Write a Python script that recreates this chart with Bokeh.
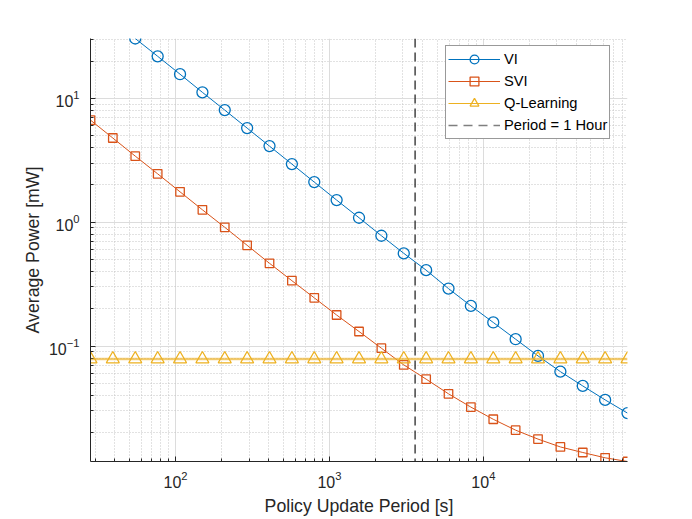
from bokeh.plotting import figure
from bokeh.models import (Range1d, FixedTicker, LogTickFormatter, Legend, LegendItem,
                          Span)
from bokeh.embed import file_html
from bokeh.resources import INLINE

# ---------------- data ----------------
period_s = [28, 39.1, 54.7, 76.5, 106.9, 149.4, 208.7, 291.7, 407.7, 569.9, 796.5,
            1113, 1556, 2174, 3039, 4247, 5935, 8296, 11595, 16206, 22646, 31651,
            44236, 61823, 86400]
vi_power = [30.5, 21.9, 15.7, 11.2, 8.05, 5.76, 4.12, 2.95, 2.11, 1.51, 1.087,
            0.778, 0.561, 0.410, 0.291, 0.211, 0.155, 0.1135, 0.0832, 0.0621,
            0.0476, 0.0367, 0.0287]
vi_period = period_s[2:]
svi_power = [6.68, 4.79, 3.42, 2.46, 1.76, 1.26, 0.910, 0.651, 0.466, 0.337, 0.245,
             0.178, 0.131, 0.0960, 0.0704, 0.0540, 0.0411, 0.0321, 0.0256, 0.0209,
             0.0177, 0.0153, 0.0138, 0.0125, 0.01167]
q_power = [0.0785] * 25
hour_s = 3600

x_major = [100, 1000, 10000]
x_minor = [30, 40, 50, 60, 70, 80, 90, 200, 300, 400, 500, 600, 700, 800, 900,
           2000, 3000, 4000, 5000, 6000, 7000, 8000, 9000,
           20000, 30000, 40000, 50000, 60000, 70000, 80000]
y_major = [0.1, 1, 10]
y_minor = [0.02, 0.03, 0.04, 0.05, 0.06, 0.07, 0.08, 0.09,
           0.2, 0.3, 0.4, 0.5, 0.6, 0.7, 0.8, 0.9,
           2, 3, 4, 5, 6, 7, 8, 9, 20, 30]

labels = ["VI", "SVI", "Q-Learning", "Period = 1 Hour"]
x_label = "Policy Update Period [s]"
y_label = "Average Power [mW]"

# ---------------- style ----------------
C_VI = "#0072BD"
C_SVI = "#D95319"
C_Q = "#EDB120"
C_AX = "#262626"
FONT = "Liberation Sans"

p = figure(width=680, height=518, x_axis_type="log", y_axis_type="log",
           x_range=Range1d(min(period_s), max(period_s)),
           y_range=Range1d(min(svi_power), max(vi_power)),
           output_backend="svg", toolbar_location=None,
           min_border_left=90, min_border_right=53, min_border_top=38,
           min_border_bottom=56)
p.outline_line_color = None
p.background_fill_color = "white"

for ax, maj, mnr in ((p.xaxis[0], x_major, x_minor), (p.yaxis[0], y_major, y_minor)):
    ax.ticker = FixedTicker(ticks=maj, minor_ticks=mnr)
    ax.formatter = LogTickFormatter()
    ax.axis_line_color = C_AX
    ax.axis_line_width = 1
    ax.major_tick_line_color = C_AX
    ax.minor_tick_line_color = C_AX
    ax.major_tick_in = 5
    ax.major_tick_out = 0
    ax.minor_tick_in = 3
    ax.minor_tick_out = 0
    ax.major_label_text_font = FONT
    ax.major_label_text_font_size = "16px"
    ax.major_label_text_color = C_AX
    ax.axis_label_text_font = FONT
    ax.axis_label_text_font_size = "17.7px"
    ax.axis_label_text_font_style = "normal"
    ax.axis_label_text_color = C_AX

p.xaxis.axis_label = x_label
p.yaxis.axis_label = y_label
p.xaxis.major_label_standoff = 9
p.xaxis.axis_label_standoff = 5
p.yaxis.major_label_standoff = 11
p.yaxis.axis_label_standoff = 3

for g in (p.xgrid[0], p.ygrid[0]):
    g.grid_line_color = "#dcdcdc"
    g.grid_line_width = 1
    g.minor_grid_line_color = "#c4c4c4"
    g.minor_grid_line_dash = "1 2"
    g.minor_grid_line_width = 1

# light band behind Q-learning, vertical hour line
p.add_layout(Span(location=q_power[0], dimension="width", line_color=C_Q,
                  line_width=3, line_alpha=0.3))
p.add_layout(Span(location=hour_s, dimension="height", line_color=C_AX,
                  line_width=1.3, line_dash="9 5"))

r_vi_l = p.line(vi_period, vi_power, line_color=C_VI, line_width=1)
r_vi_m = p.scatter(vi_period, vi_power, marker="circle", size=11, fill_color=None,
                   line_color=C_VI, line_width=1.3)
r_svi_l = p.line(period_s, svi_power, line_color=C_SVI, line_width=1)
r_svi_m = p.scatter(period_s, svi_power, marker="square", size=8.5, fill_color=None,
                    line_color=C_SVI, line_width=1.3)
r_q_l = p.line(period_s, q_power, line_color=C_Q, line_width=1)
r_q_m = p.scatter(period_s, q_power, marker="triangle", size=13, fill_color=None,
                  line_color=C_Q, line_width=1.3)
# single-point line: draws nothing in the plot, only gives the legend its glyph
r_hour = p.line(x=[hour_s], y=[max(vi_power)], line_color="#7f7f7f",
                line_width=1.6, line_dash="9 6")

legend = Legend(items=[
    LegendItem(label=labels[0], renderers=[r_vi_l, r_vi_m]),
    LegendItem(label=labels[1], renderers=[r_svi_l, r_svi_m]),
    LegendItem(label=labels[2], renderers=[r_q_l, r_q_m]),
    LegendItem(label=labels[3], renderers=[r_hour]),
], location=(355, 322))
legend.margin = 0
legend.padding = 2
legend.spacing = -1
legend.label_height = 22
legend.glyph_height = 22
legend.glyph_width = 52
legend.label_standoff = 4
legend.label_text_font = FONT
legend.label_text_font_size = "14.7px"
legend.label_text_color = "#000000"
legend.border_line_color = "#333333"
legend.border_line_width = 1
legend.background_fill_color = "white"
legend.background_fill_alpha = 1
p.add_layout(legend)

open("out.html", "w").write(file_html(p, INLINE))
